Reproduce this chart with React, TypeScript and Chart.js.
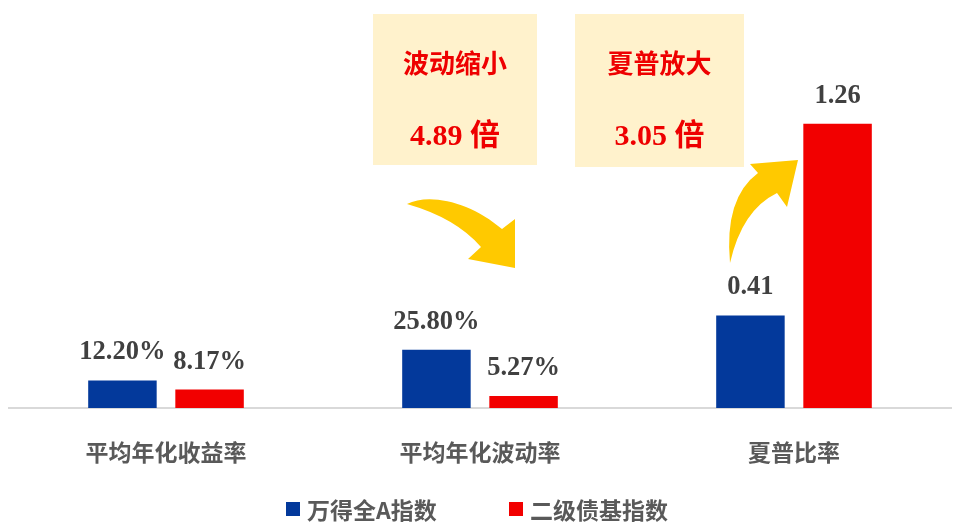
import React, { useEffect, useRef } from "react";
import { Chart, registerables } from "chart.js";

Chart.register(...registerables);

const categories = ["平均年化收益率", "平均年化波动率", "夏普比率"];
const seriesNames = ["万得全A指数", "二级债基指数"];
const windAllA = [0.122, 0.258, 0.41];
const bondFund = [0.0817, 0.0527, 1.26];
// the first two categories are rates, the last one is a plain ratio
const isPercent = [true, true, false];
const callouts = [
    { title: "波动缩小", value: "4.89 倍" },
    { title: "夏普放大", value: "3.05 倍" },
];

const BLUE = "#03399B";
const RED = "#F20000";
const YELLOW = "#FFC900";
const CJK = '"Noto Sans CJK SC", sans-serif';

const valueLabels = {
    id: "valueLabels",
    afterDatasetsDraw(chart: any) {
        const ctx = chart.ctx;
        ctx.save();
        ctx.font = 'bold 26.5px "Liberation Serif", serif';
        ctx.fillStyle = "#404040";
        ctx.textAlign = "center";
        ctx.textBaseline = "alphabetic";
        chart.data.datasets.forEach((ds: any, di: number) => {
            const meta = chart.getDatasetMeta(di);
            meta.data.forEach((bar: any, i: number) => {
                const v = ds.data[i];
                const text = isPercent[i] ? (v * 100).toFixed(2) + "%" : v.toFixed(2);
                ctx.fillText(text, bar.x, bar.y - 21);
            });
        });
        ctx.restore();
    },
};

// yellow call-out boxes and the two curved arrows
const callout = {
    id: "callout",
    afterDraw(chart: any) {
        const ctx = chart.ctx;
        ctx.save();
        const boxes = [
            { x: 373, y: 14, w: 164, h: 151 },
            { x: 575, y: 14, w: 169, h: 153 },
        ];
        boxes.forEach((b, i) => {
            ctx.fillStyle = "#FFF2CC";
            ctx.fillRect(b.x, b.y, b.w, b.h);
            const cx = b.x + b.w / 2;
            ctx.fillStyle = "#EE0000";
            ctx.textAlign = "center";
            ctx.textBaseline = "middle";
            ctx.font = "bold 26px " + CJK;
            ctx.fillText(callouts[i].title, cx, 63);
            ctx.font = 'bold 30px "Liberation Serif", ' + CJK;
            ctx.fillText(callouts[i].value, cx, 137);
        });

        ctx.fillStyle = YELLOW;
        // arrow pointing down to the volatility bars
        ctx.beginPath();
        ctx.moveTo(407, 204);
        ctx.bezierCurveTo(430, 192, 472, 203, 502, 229);
        ctx.lineTo(515, 219);
        ctx.lineTo(515, 268);
        ctx.lineTo(468, 259);
        ctx.lineTo(481, 247);
        ctx.quadraticCurveTo(456, 218, 407, 204);
        ctx.closePath();
        ctx.fill();

        // arrow pointing up to the sharpe bar
        ctx.beginPath();
        ctx.moveTo(730, 263);
        ctx.quadraticCurveTo(724, 198, 758, 173);
        ctx.lineTo(750, 164);
        ctx.lineTo(798, 160);
        ctx.lineTo(787, 207);
        ctx.lineTo(777, 193);
        ctx.quadraticCurveTo(742, 210, 730, 263);
        ctx.closePath();
        ctx.fill();
        ctx.restore();
    },
};

function LegendItem({ color, text, left }: { color: string; text: string; left: number }) {
    return (
        <div style={{ position: "absolute", left, top: 494, height: 30, display: "flex", alignItems: "center" }}>
            <span style={{ width: 14, height: 14, background: color, marginRight: 7, display: "inline-block" }} />
            <span style={{ font: "bold 23px " + CJK, color: "#595959", lineHeight: "30px" }}>{text}</span>
        </div>
    );
}

export default function App() {
    const canvasRef = useRef<HTMLCanvasElement | null>(null);
    const chartRef = useRef<Chart | null>(null);

    useEffect(() => {
        const canvas = canvasRef.current;
        if (!canvas) return;
        if (chartRef.current) {
            chartRef.current.destroy();
            chartRef.current = null;
        }

        chartRef.current = new Chart(canvas, {
            type: "bar",
            data: {
                labels: categories,
                datasets: [
                    { label: seriesNames[0], data: windAllA, backgroundColor: BLUE },
                    { label: seriesNames[1], data: bondFund, backgroundColor: RED },
                ],
            },
            options: {
                responsive: true,
                maintainAspectRatio: false,
                animation: false,
                layout: { padding: { left: 9, right: 9, top: 47, bottom: 33.4 } },
                datasets: {
                    bar: { categoryPercentage: 0.555, barPercentage: 0.786 },
                },
                plugins: {
                    legend: { display: false },
                    tooltip: { enabled: false },
                },
                scales: {
                    x: {
                        grid: { display: false, drawTicks: false },
                        border: { display: true, color: "#D9D9D9", width: 2 },
                        ticks: {
                            padding: 30,
                            color: "#595959",
                            font: { family: CJK, size: 23, weight: "bold" },
                        },
                    },
                    y: { display: false, min: 0, max: 1.6 },
                },
            } as any,
            plugins: [valueLabels, callout],
        });

        return () => {
            if (chartRef.current) {
                chartRef.current.destroy();
                chartRef.current = null;
            }
        };
    }, []);

    return (
        <div style={{ position: "absolute", left: 0, top: 0, width: 960, height: 529, background: "#fff" }}>
            <canvas ref={canvasRef} />
            <LegendItem color={BLUE} text={seriesNames[0]} left={286} />
            <LegendItem color={RED} text={seriesNames[1]} left={509} />
        </div>
    );
}
